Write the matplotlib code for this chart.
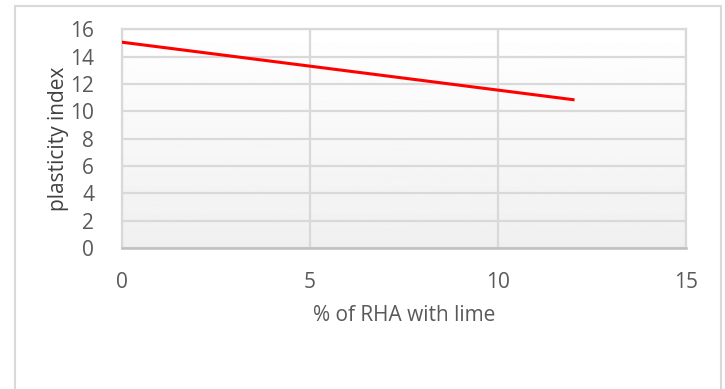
import numpy as np
import matplotlib.pyplot as plt
from matplotlib.patches import Rectangle

# % of RHA mixed with lime and the resulting plasticity index
rha_pct = [0, 3, 6, 9, 12]
plasticity_index = [15.05, 14.0, 12.95, 11.9, 10.85]

x_ticks = [0, 5, 10, 15]
y_ticks = [0, 2, 4, 6, 8, 10, 12, 14, 16]

plt.rcParams['font.family'] = ['Open Sans', 'DejaVu Sans']

fig = plt.figure(figsize=(7.25, 3.89), dpi=100)
ax = fig.add_axes([0.168, 0.362, 0.778, 0.563])

# light frame around the whole chart
fig.patches.append(Rectangle((0.021, -0.1), 0.974, 1.085, transform=fig.transFigure,
                             fill=False, edgecolor='#d9d9d9', linewidth=1.5))

# soft white-to-grey fill behind the plot (white at the top)
grad = np.linspace(1.0, 0.94, 256).reshape(-1, 1)
ax.imshow(grad, cmap='gray', vmin=0, vmax=1, aspect='auto',
          extent=[0, 15, 0, 16], zorder=0, origin='upper')

ax.plot(rha_pct, plasticity_index, color='#ff0000', linewidth=2.2, zorder=3)

ax.set_xlim(0, 15)
ax.set_ylim(0, 16)
ax.set_xticks(x_ticks)
ax.set_yticks(y_ticks)
ax.grid(True, color='#d9d9d9', linewidth=1.6, zorder=1)
ax.set_axisbelow(True)
for side in ['top', 'right', 'left']:
    ax.spines[side].set_color('#d9d9d9')
    ax.spines[side].set_linewidth(1.6)
ax.spines['bottom'].set_color('#bfbfbf')
ax.spines['bottom'].set_linewidth(1.8)

ax.tick_params(length=0, labelsize=15, labelcolor='#595959')
ax.tick_params(axis='y', pad=20)
ax.tick_params(axis='x', pad=17)

ax.set_xlabel('% of RHA with lime', fontsize=15, color='#595959', labelpad=9)
ax.set_ylabel('plasticity index', fontsize=15, color='#404040', labelpad=1)

fig.savefig('out.png', dpi=100)
